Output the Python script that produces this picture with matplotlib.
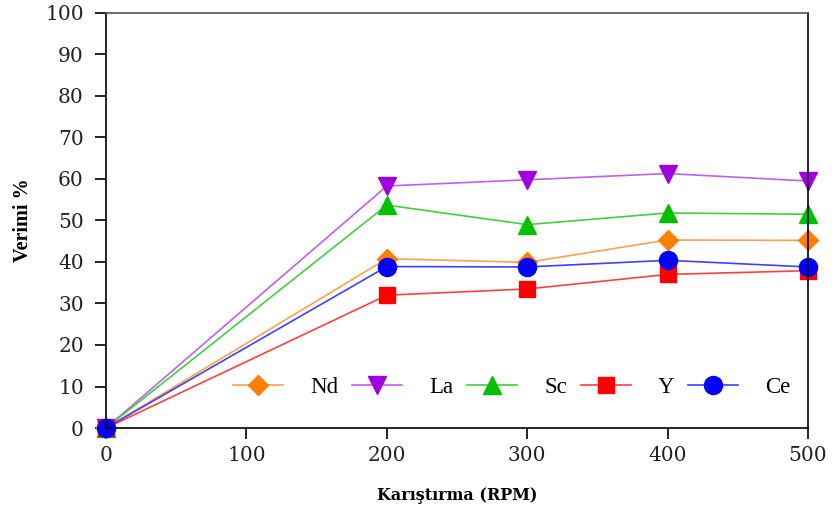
import matplotlib
matplotlib.use('Agg')
from matplotlib import pyplot as plt

# Karıştırma hızı (RPM) ve her element için verim (%)
rpm = [0, 200, 300, 400, 500]
nd = [0, 40.8, 39.9, 45.3, 45.2]
la = [0, 58.3, 59.8, 61.3, 59.5]
sc = [0, 53.7, 49.0, 51.8, 51.5]
y_el = [0, 32.0, 33.5, 37.0, 37.9]
ce = [0, 38.9, 38.8, 40.4, 38.8]

fig = plt.figure(figsize=(8.35, 5.16), dpi=100)
ax = fig.add_axes([0.127, 0.1705, 0.8407, 0.8045])

ax.plot(rpm, nd, color='#FFA050', lw=1.2, marker='D', ms=10,
        mfc='#FF8000', mec='#FF8000', label='Nd')
ax.plot(rpm, la, color='#C060F0', lw=1.2, marker='v', ms=13,
        mfc='#A000E0', mec='#A000E0', label='La')
ax.plot(rpm, sc, color='#40D040', lw=1.2, marker='^', ms=13,
        mfc='#00C000', mec='#00C000', label='Sc')
ax.plot(rpm, y_el, color='#FF4040', lw=1.2, marker='s', ms=12,
        mfc='#FF0000', mec='#FF0000', label='Y')
ax.plot(rpm, ce, color='#4040FF', lw=1.2, marker='o', ms=13,
        mfc='#0000FF', mec='#0000FF', label='Ce')

ax.set_xlim(0, 500)
ax.set_ylim(0, 100)
ax.set_xticks(range(0, 501, 100))
ax.set_yticks(range(0, 101, 10))
ax.tick_params(direction='out', length=8, width=1.2, labelsize=14.5,
               top=False, right=False)
ax.tick_params(axis='y', pad=8)
ax.tick_params(axis='x', pad=5)
for lbl in ax.get_xticklabels() + ax.get_yticklabels():
    lbl.set_family('DejaVu Serif')
    lbl.set_color('#222222')
for sp in ax.spines.values():
    sp.set_linewidth(1.2)
ax.spines['top'].set_color('#555555')
for ln in ax.lines:
    ln.set_clip_on(False)

ax.set_ylabel('Verimi %', fontsize=14.5, fontweight='bold',
              family='Liberation Serif', labelpad=9)
ax.set_xlabel('Karıştırma (RPM)', fontsize=11.5, fontweight='bold',
              family='DejaVu Serif', labelpad=16)

leg = ax.legend(loc='center', bbox_to_anchor=(0.578, 0.097), ncol=5,
                frameon=False, handlelength=2.18, handletextpad=1.18,
                columnspacing=0.6, borderpad=0, borderaxespad=0,
                prop={'family': 'Liberation Serif', 'size': 16.5})

fig.savefig('out.png', dpi=100)
